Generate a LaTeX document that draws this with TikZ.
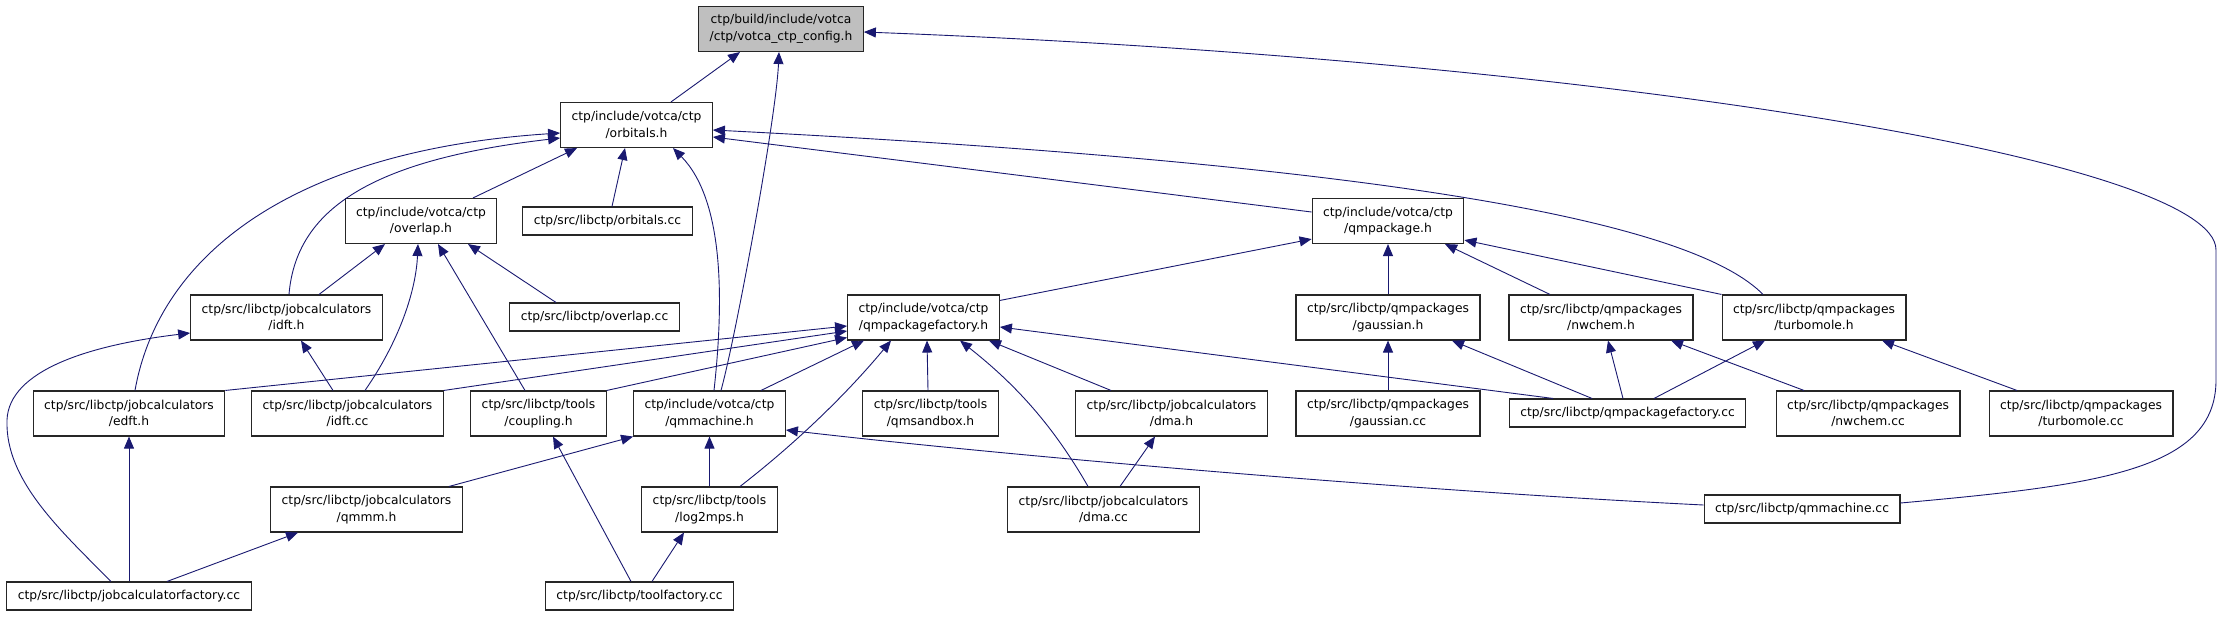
\documentclass[tikz,border=0pt]{standalone}
\usepackage{fontspec}
\setmainfont{DejaVu Sans}
\usetikzlibrary{arrows.meta}
\definecolor{edgeblue}{RGB}{25,25,112}
\definecolor{cfggray}{RGB}{191,191,191}

\begin{document}
\begin{tikzpicture}[x=1pt, y=-1pt,
  every node/.style={font=\fontsize{12.3}{16.7}\selectfont},
  file/.style={draw=black!85, line width=1.1pt, fill=white, align=center, inner xsep=11pt, inner ysep=0pt, minimum height=45pt},
  leaf/.style={file, minimum height=28pt},
  inc/.style={draw=edgeblue, line width=0.9pt, -{Triangle[length=12pt,width=10pt]}}]
  \useasboundingbox (0,0) rectangle (2222,616);

  \node[file, fill=cfggray] (CFG) at (781,29) {ctp/build/include/votca\\/ctp/votca\_ctp\_config.h};
  \node[file] (ORB) at (636.5,125) {ctp/include/votca/ctp\\/orbitals.h};

  \node[file] (OVL) at (421,221) {ctp/include/votca/ctp\\/overlap.h};
  \node[leaf] (ORBCC) at (607.5,221) {ctp/src/libctp/orbitals.cc};
  \node[file] (QMP) at (1388,221) {ctp/include/votca/ctp\\/qmpackage.h};

  \node[file] (IDFTH) at (286.5,317.5) {ctp/src/libctp/jobcalculators\\/idft.h};
  \node[leaf] (OVLCC) at (594.5,317) {ctp/src/libctp/overlap.cc};
  \node[file] (QPFH) at (923.5,317.5) {ctp/include/votca/ctp\\/qmpackagefactory.h};
  \node[file] (GAUSH) at (1388,317.5) {ctp/src/libctp/qmpackages\\/gaussian.h};
  \node[file] (NWH) at (1601,317.5) {ctp/src/libctp/qmpackages\\/nwchem.h};
  \node[file] (TURBH) at (1814,317.5) {ctp/src/libctp/qmpackages\\/turbomole.h};

  \node[file] (EDFT) at (129,413.5) {ctp/src/libctp/jobcalculators\\/edft.h};
  \node[file] (IDFTCC) at (347.5,413.5) {ctp/src/libctp/jobcalculators\\/idft.cc};
  \node[file] (COUP) at (538.5,413.5) {ctp/src/libctp/tools\\/coupling.h};
  \node[file] (QMMH) at (709.5,413.5) {ctp/include/votca/ctp\\/qmmachine.h};
  \node[file] (SANDBOX) at (930.5,413.5) {ctp/src/libctp/tools\\/qmsandbox.h};
  \node[file] (DMAH) at (1171.5,413.5) {ctp/src/libctp/jobcalculators\\/dma.h};
  \node[file] (GAUSCC) at (1388,413.5) {ctp/src/libctp/qmpackages\\/gaussian.cc};
  \node[leaf] (QPFCC) at (1627.5,413) {ctp/src/libctp/qmpackagefactory.cc};
  \node[file] (NWCC) at (1868,413.5) {ctp/src/libctp/qmpackages\\/nwchem.cc};
  \node[file] (TURBCC) at (2081,413.5) {ctp/src/libctp/qmpackages\\/turbomole.cc};

  \node[file] (QMMM) at (366.5,509.5) {ctp/src/libctp/jobcalculators\\/qmmm.h};
  \node[file] (LOG2MPS) at (709.5,509.5) {ctp/src/libctp/tools\\/log2mps.h};
  \node[file] (DMACC) at (1103.5,509.5) {ctp/src/libctp/jobcalculators\\/dma.cc};
  \node[leaf] (QMMCC) at (1802,509) {ctp/src/libctp/qmmachine.cc};

  \node[leaf] (JCF) at (129,596) {ctp/src/libctp/jobcalculatorfactory.cc};
  \node[leaf] (TOOLF) at (639.5,596) {ctp/src/libctp/toolfactory.cc};

  % includes of the config header
  \draw[inc] ([xshift=34.5pt]ORB.north) -- ([xshift=-41pt]CFG.south);
  \draw[inc] ([xshift=11.5pt]QMMH.north) .. controls (735,340) and (776,120) .. ([xshift=-2pt]CFG.south);
  \draw[inc] ([yshift=6pt]QMMCC.east) .. controls (2100,485) and (2216,470) .. (2216,380) -- (2216,250) .. controls (2216,160) and (1600,60) .. ([yshift=-3pt]CFG.east);

  % orbitals.h
  \draw[inc] ([xshift=52pt]OVL.north) -- ([xshift=-59.5pt]ORB.south);
  \draw[inc] ([xshift=4.5pt]ORBCC.north) -- ([xshift=-11.5pt]ORB.south);
  \draw[inc] ([xshift=2.5pt]IDFTH.north) .. controls (296,210) and (370,160) .. ([yshift=-13pt]ORB.west);
  \draw[inc] ([xshift=6pt]EDFT.north) .. controls (160,250) and (300,150) .. ([yshift=-8pt]ORB.west);
  \draw[inc] ([xshift=4.5pt]QMMH.north) .. controls (724,300) and (724,200) .. ([xshift=36.5pt]ORB.south);
  \draw[inc] ([yshift=9pt]QMP.west) -- ([yshift=-12pt]ORB.east);
  \draw[inc] ([xshift=-51pt]TURBH.north) .. controls (1680,210) and (1300,160) .. ([yshift=-5pt]ORB.east);

  % overlap.h
  \draw[inc] ([xshift=32.5pt]IDFTH.north) -- ([xshift=-36pt]OVL.south);
  \draw[inc] ([xshift=17.5pt]IDFTCC.north) .. controls (400,340) and (416,290) .. ([xshift=-3pt]OVL.south);
  \draw[inc] ([xshift=-13.5pt]COUP.north) -- ([xshift=17pt]OVL.south);
  \draw[inc] ([xshift=-38.5pt]OVLCC.north) -- ([xshift=47pt]OVL.south);

  % qmpackage.h
  \draw[inc] ([yshift=-6pt]QPFH.north east) -- ([yshift=5pt]QMP.south west);
  \draw[inc] (GAUSH.north) -- (QMP.south);
  \draw[inc] ([xshift=-51pt]NWH.north) -- ([xshift=57pt]QMP.south);
  \draw[inc] (TURBH.north west) -- ([yshift=4pt]QMP.south east);

  % idft.h
  \draw[inc] ([xshift=-18pt]JCF.north) .. controls (60,530) and (5,480) .. (7,420) .. controls (9,370) and (90,345) .. ([yshift=-15.5pt]IDFTH.west);
  \draw[inc] ([xshift=-14.5pt]IDFTCC.north) -- ([xshift=14.5pt]IDFTH.south);

  % qmpackagefactory.h
  \draw[inc] (EDFT.north east) -- ([yshift=-8.5pt]QPFH.west);
  \draw[inc] (IDFTCC.north east) -- ([yshift=-13.5pt]QPFH.west);
  \draw[inc] (COUP.north east) -- ([yshift=-20pt]QPFH.west);
  \draw[inc] ([xshift=51.5pt]QMMH.north) -- ([xshift=-59.5pt]QPFH.south);
  \draw[inc] ([xshift=-2.5pt]SANDBOX.north) -- ([xshift=3.5pt]QPFH.south);
  \draw[inc] ([xshift=-60.5pt]DMAH.north) -- ([xshift=65.5pt]QPFH.south);
  \draw[inc] ([xshift=30.5pt]LOG2MPS.north) .. controls (800,440) and (850,390) .. ([xshift=-32.5pt]QPFH.south);
  \draw[inc] ([xshift=-15.5pt]DMACC.north) .. controls (1050,420) and (1010,380) .. ([xshift=36.5pt]QPFH.south);
  \draw[inc] ([xshift=-74.5pt]QPFCC.north) -- ([yshift=-9.5pt]QPFH.east);

  % qmpackages
  \draw[inc] (GAUSCC.north) -- (GAUSH.south);
  \draw[inc] ([xshift=-35.5pt]QPFCC.north) -- ([xshift=64pt]GAUSH.south);
  \draw[inc] ([xshift=-4.5pt]QPFCC.north) -- ([xshift=7pt]NWH.south);
  \draw[inc] ([xshift=-64pt]NWCC.north) -- ([xshift=70pt]NWH.south);
  \draw[inc] ([xshift=26.5pt]QPFCC.north) -- ([xshift=-49pt]TURBH.south);
  \draw[inc] ([xshift=-64pt]TURBCC.north) -- ([xshift=68pt]TURBH.south);

  % lower ranks
  \draw[inc] (JCF.north) -- (EDFT.south);
  \draw[inc] ([xshift=82.5pt]QMMM.north) -- (QMMH.south west);
  \draw[inc] (LOG2MPS.north) -- (QMMH.south);
  \draw[inc] ([yshift=4pt]QMMCC.west) .. controls (1400,490) and (1000,455) .. ([yshift=-16.5pt]QMMH.east);
  \draw[inc] ([xshift=-8.5pt]TOOLF.north) -- ([xshift=14.5pt]COUP.south);
  \draw[inc] ([xshift=16.5pt]DMACC.north) -- ([xshift=-16.5pt]DMAH.south);
  \draw[inc] ([xshift=38pt]JCF.north) -- ([xshift=-68.5pt]QMMM.south);
  \draw[inc] ([xshift=12.5pt]TOOLF.north) -- ([xshift=-25.5pt]LOG2MPS.south);
\end{tikzpicture}
\end{document}
